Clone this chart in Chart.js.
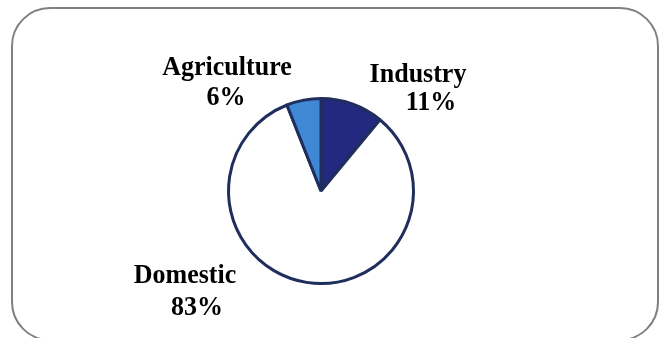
<!DOCTYPE html>
<html>
<head>
<meta charset="utf-8">
<script src="https://cdn.jsdelivr.net/npm/chart.js@4/dist/chart.umd.min.js"></script>
<style>
  html, body { margin: 0; padding: 0; background: #fff; overflow: hidden; }
  #wrap { position: relative; width: 659px; height: 338px; overflow: hidden; }
  #frame {
    position: absolute; left: 11px; top: 7px; width: 648px; height: 334px;
    box-sizing: border-box; border: 2.5px solid #808080; border-radius: 39px;
  }
  #usage { position: absolute; left: 0; top: 0; }
</style>
</head>
<body>
<div id="wrap">
  <div id="frame"></div>
  <canvas id="usage" width="659" height="338"></canvas>
</div>
<script>
  // water use by sector, clockwise from 12 o'clock
  const sectors = ["Industry", "Domestic", "Agriculture"];
  const shares = [11, 83, 6];
  const sliceColors = ["#22297f", "#ffffff", "#3f89d4"];

  // where each caption sits, relative to the pie centre (two lines each)
  const captionOffsets = {
    Industry: [[97, -109], [110, -81]],
    Domestic: [[-136, 92], [-124, 124]],
    Agriculture: [[-94, -116], [-95, -86]]
  };

  // the captions are set a touch taller than the plain face
  const STRETCH_Y = 1.08;

  function drawLine(ctx, text, x, y) {
    ctx.save();
    ctx.translate(x, y);
    ctx.scale(1, STRETCH_Y);
    ctx.fillText(text, 0, 0);
    ctx.restore();
  }

  const captions = {
    id: "captions",
    afterDatasetsDraw(chart) {
      const ctx = chart.ctx;
      const arc = chart.getDatasetMeta(0).data[0];
      const cx = arc.x, cy = arc.y;
      ctx.save();
      ctx.font = "bold 26px 'Liberation Serif', 'Times New Roman', serif";
      ctx.fillStyle = "#000";
      ctx.textAlign = "center";
      ctx.textBaseline = "alphabetic";
      sectors.forEach(function (name, i) {
        const off = captionOffsets[name];
        drawLine(ctx, name, cx + off[0][0], cy + off[0][1]);
        drawLine(ctx, shares[i] + "%", cx + off[1][0], cy + off[1][1]);
      });
      ctx.restore();
    }
  };

  new Chart(document.getElementById("usage"), {
    type: "pie",
    data: {
      labels: sectors,
      datasets: [{
        data: shares,
        backgroundColor: sliceColors,
        borderColor: "#1f2e5c",
        borderWidth: 3,
        hoverOffset: 0,
        offset: 0
      }]
    },
    options: {
      responsive: false,
      animation: false,
      layout: { padding: { left: 227, right: 244, top: 97, bottom: 53 } },
      plugins: {
        legend: { display: false },
        tooltip: { enabled: false }
      }
    },
    plugins: [captions]
  });
</script>
</body>
</html>
